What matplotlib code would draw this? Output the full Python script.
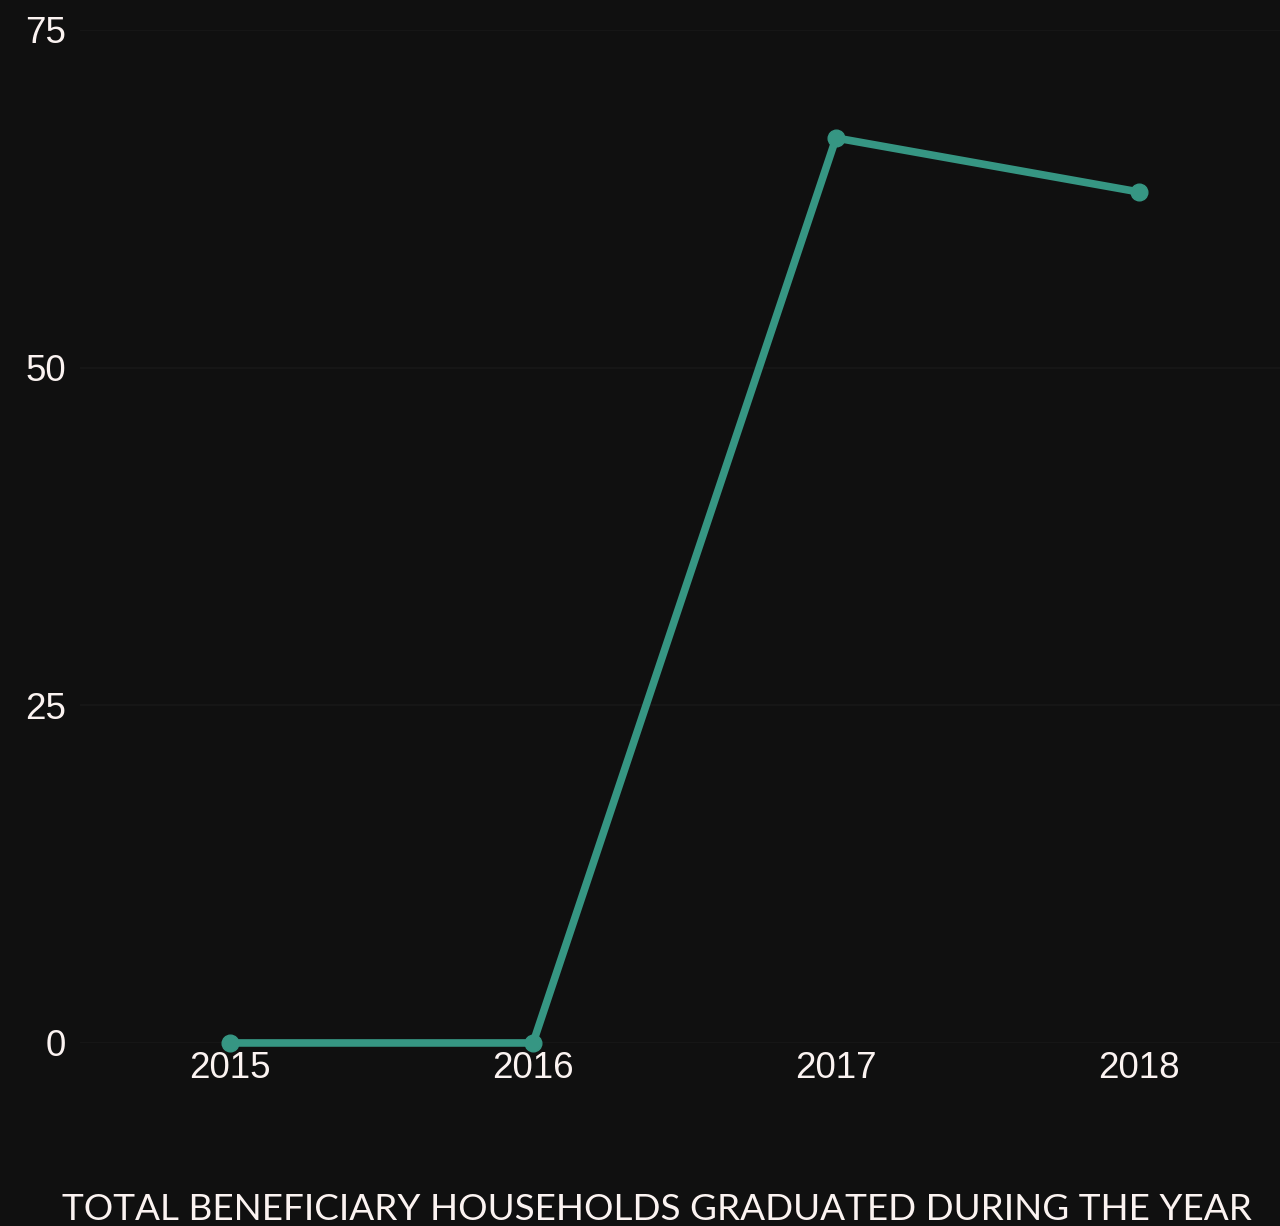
import matplotlib.pyplot as plt

years = ['2015', '2016', '2017', '2018']
graduated = [0, 0, 67, 63]
y_ticks = [0, 25, 50, 75]
title = 'TOTAL BENEFICIARY HOUSEHOLDS GRADUATED DURING THE YEAR'

bg = '#101010'
text_color = '#fbf3f1'
line_color = '#369683'

fig = plt.figure(figsize=(12.8, 12.26), dpi=100, facecolor=bg)
ax = fig.add_axes([0.0625, 0.1493, 0.9375, 0.8263], facecolor=bg)

x = list(range(len(years)))
ax.plot(x, graduated, color=line_color, linewidth=5.5, marker='o', markersize=12,
        solid_capstyle='round', clip_on=False, zorder=3)

ax.set_xlim(-0.495, 3.465)
ax.set_ylim(0, 75)
ax.set_xticks(x)
ax.set_xticklabels(years)
ax.set_yticks(y_ticks)
ax.grid(axis='y', color='#181818', linewidth=1.2)
ax.grid(axis='x', visible=False)
for s in ax.spines.values():
    s.set_visible(False)
ax.tick_params(axis='both', length=0, colors=text_color, labelsize=26.5)
ax.tick_params(axis='x', pad=6)
ax.tick_params(axis='y', pad=10)
for lbl in ax.get_xticklabels() + ax.get_yticklabels():
    lbl.set_fontfamily('Liberation Sans')

fig.text(0.5134, 0.0, title, ha='center', va='bottom', color=text_color,
         fontsize=26.6, family='Lato', fontweight='normal')

fig.savefig('out.png', dpi=100, facecolor=bg)
